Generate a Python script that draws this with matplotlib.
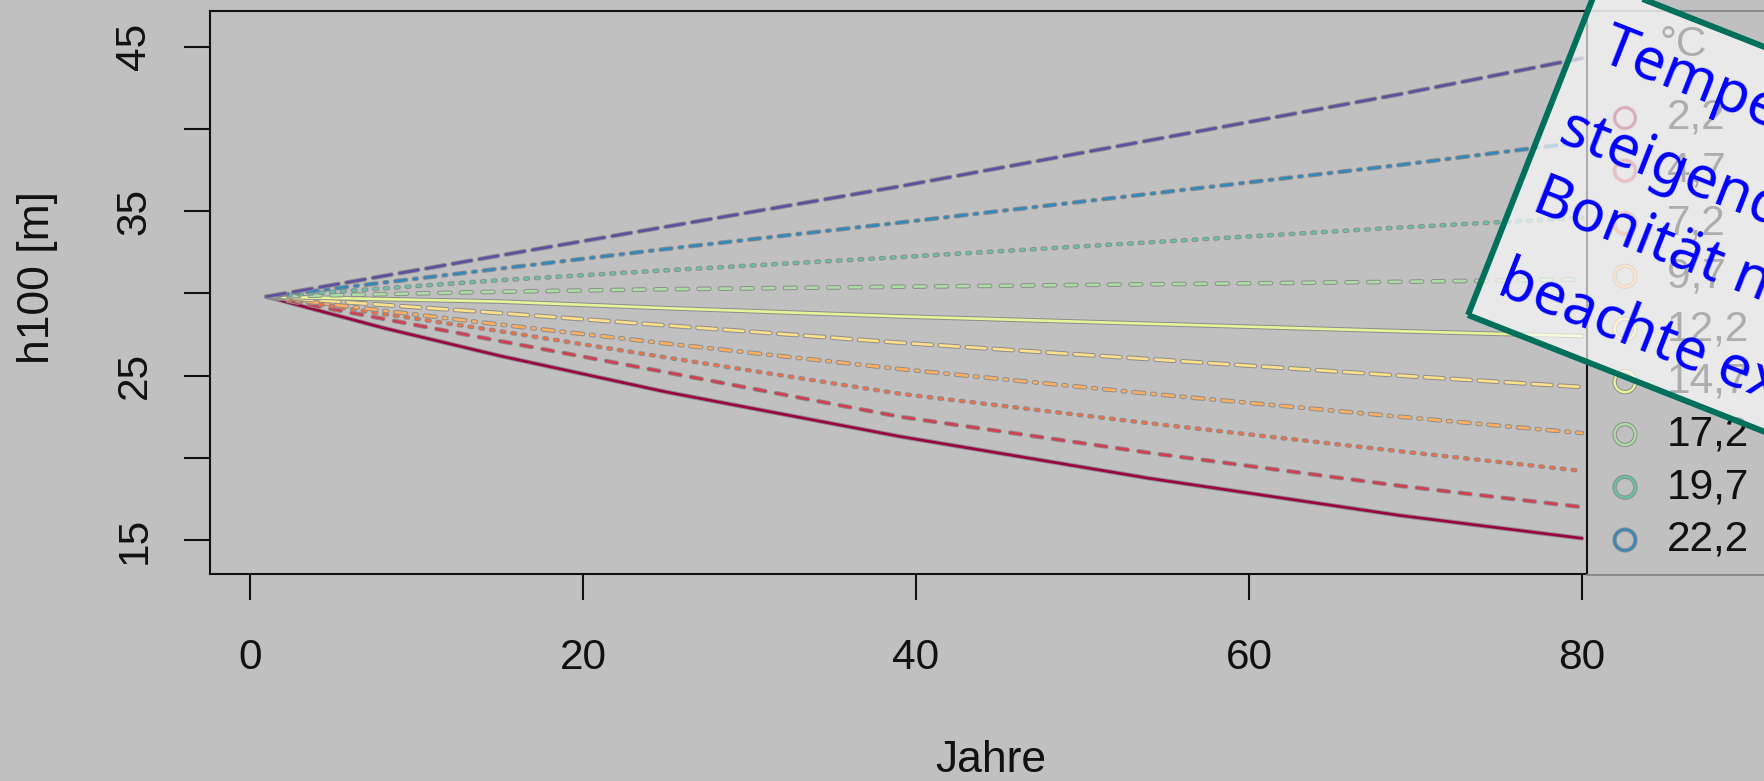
import numpy as np
import matplotlib
matplotlib.use("Agg")
import matplotlib.pyplot as plt
import matplotlib.patheffects as pe
from matplotlib.patches import Polygon
from matplotlib.lines import Line2D

# ---------------- data ----------------
years = [1, 8, 15, 25, 39, 54, 69, 80]
h_line01 = [29.8, 27.9, 26.2, 24.0, 21.3, 18.75, 16.5, 15.1]   # crimson, solid
h_line02 = [29.8, 28.45, 27.1, 25.2, 22.5, 20.3, 18.3, 17.0]   # red, dashed
h_line03 = [29.8, 28.75, 27.7, 26.1, 23.9, 22.1, 20.4, 19.2]   # orange-red, dotted
h_line04 = [29.8, 28.95, 28.1, 26.95, 25.4, 23.9, 22.5, 21.5]  # orange, dotdash
h_line05 = [29.8, 29.3, 28.8, 28.05, 27.0, 26.0, 25.0, 24.3]   # light orange, longdash
h_line06 = [29.8, 29.65, 29.5, 29.1, 28.6, 28.15, 27.7, 27.4]  # yellow, solid
h_line07 = [29.8, 29.95, 30.1, 30.25, 30.4, 30.55, 30.7, 30.85]  # light green, dashed
h_line08 = [29.8, 30.3, 30.8, 31.4, 32.2, 33.1, 34.0, 34.6]    # teal, dotted
h_line09 = [29.8, 30.65, 31.5, 32.7, 34.3, 36.05, 37.8, 39.2]  # blue, dotdash
h_line10 = [29.8, 31.05, 32.3, 34.05, 36.5, 39.3, 42.1, 44.3]  # purple, longdash

legend_title = "°C"
legend_labels = ["2,2", "4,7", "7,2", "9,7", "12,2", "14,7", "17,2", "19,7", "22,2"]

x_ticks = [0, 20, 40, 60, 80]
y_ticks = [15, 20, 25, 30, 35, 40, 45]
y_ticklabels = ["15", "", "25", "", "35", "", "45"]

note_lines = ["Temperatur", "steigende", "Bonität nimmt ab,", "beachte extreme Werte"]

# ---------------- style ----------------
W, H = 1765, 781
DPI = 100
plt.rcParams["font.family"] = ["Liberation Sans", "DejaVu Sans"]
plt.rcParams["lines.scale_dashes"] = False

palette = ["#9E0142", "#D53E4F", "#F46D43", "#FDAE61", "#FEE08B",
           "#E6F598", "#ABDDA4", "#66C2A5", "#3288BD", "#5E4FA2"]
u = 1.944  # R lty unit in points
lty = {
    "solid": "-",
    "dashed": (0, (4 * u, 4 * u)),
    "dotted": (0, (1 * u, 3 * u)),
    "dotdash": (0, (1 * u, 3 * u, 4 * u, 3 * u)),
    "longdash": (0, (7 * u, 3 * u)),
}
styles = ["solid", "dashed", "dotted", "dotdash", "longdash"] * 2
series = [h_line01, h_line02, h_line03, h_line04, h_line05,
          h_line06, h_line07, h_line08, h_line09, h_line10]

BG = "#c0c0c0"
halo = [pe.Stroke(linewidth=3.3, foreground="#8c8c8c"), pe.Normal()]

fig = plt.figure(figsize=(W / DPI, H / DPI), dpi=DPI, facecolor=BG)


def fx(px):
    return px / W


def fy(py):
    return 1 - py / H


# axes box in pixels
L, R, T, B = 210, 1587, 10.7, 574
ax = fig.add_axes([fx(L), fy(B), fx(R) - fx(L), fy(T) - fy(B)])
ax.set_facecolor(BG)
ax.set_xlim(-2.40, 80.30)
ax.set_ylim(12.93, 47.19)

for yv, st, col in zip(series, styles, palette):
    ax.plot(years, yv, color=col, lw=1.9, linestyle=lty[st],
            solid_capstyle="round", dash_capstyle="round",
            solid_joinstyle="round", path_effects=halo, zorder=3)

for sp in ax.spines.values():
    sp.set_linewidth(1.5)
    sp.set_color("#111111")

ax.set_xticks(x_ticks)
ax.set_xticklabels([str(v) for v in x_ticks])
ax.set_yticks(y_ticks)
ax.set_yticklabels(y_ticklabels)
ax.tick_params(axis="both", length=19, width=1.5, color="#111111",
               labelsize=30.5, labelcolor="#111111")
ax.tick_params(axis="x", pad=27)
ax.tick_params(axis="y", pad=21, labelrotation=90)
for lab in ax.get_yticklabels():
    lab.set_va("center")

fig.text(fx(991), fy(760), "Jahre", ha="center", va="center",
         fontsize=32, color="#111111")
fig.text(fx(38), fy(278), "h100 [m]", ha="center", va="center",
         rotation=90, fontsize=32, color="#111111")

# ---------------- legend (partly outside the picture) ----------------
for yy in (T, B + 1):
    fig.add_artist(Line2D([fx(R), fx(W)], [fy(yy), fy(yy)],
                          color="#8a8a8a", lw=1.5, zorder=4))

fig.text(fx(1660), fy(45), legend_title, ha="left", va="center",
         fontsize=30.5, color="#111111", zorder=5)
row0, drow = 118, 52.75
for i, (lab, col) in enumerate(zip(legend_labels, palette)):
    yy = row0 + i * drow
    fig.add_artist(Line2D([fx(1625)], [fy(yy)], marker="o", markersize=15,
                          markerfacecolor="none", markeredgecolor=col,
                          markeredgewidth=1.7, linestyle="none",
                          path_effects=[pe.Stroke(linewidth=3.1, foreground="#8c8c8c"),
                                        pe.Normal()], zorder=5))
    fig.text(fx(1667), fy(yy), lab, ha="left", va="center",
             fontsize=30.5, color="#111111", zorder=5)

# ---------------- rotated note box ----------------
th = np.deg2rad(21.5)
dvec = np.array([np.cos(th), np.sin(th)])      # along text (y down)
nvec = np.array([-np.sin(th), np.cos(th)])     # downwards normal
BL = np.array([1468.0, 315.0])
bw, bh = 700.0, 358.0
corners = [BL, BL + bw * dvec, BL + bw * dvec - bh * nvec, BL - bh * nvec]
corners_fig = [(fx(c[0]), fy(c[1])) for c in corners]

fig.add_artist(Polygon(corners_fig, closed=True, facecolor="white", alpha=0.66,
                       edgecolor="none", transform=fig.transFigure, zorder=10))
fig.add_artist(Polygon(corners_fig, closed=True, facecolor="none",
                       edgecolor="#00705c", lw=4.3, joinstyle="miter",
                       transform=fig.transFigure, zorder=11))

starts = [1508, 1500, 1500, 1498]
baselines = [-530, -438, -366, -276]
for txt, s, b in zip(note_lines, starts, baselines):
    p = s * dvec + b * nvec
    fig.text(fx(p[0]), fy(p[1]), txt, ha="left", va="baseline",
             rotation=-21.5, rotation_mode="anchor",
             fontsize=42, color="#0000ff", zorder=12,
             family=["Noto Sans", "DejaVu Sans"])

fig.savefig("out.png", dpi=DPI, facecolor=BG)
